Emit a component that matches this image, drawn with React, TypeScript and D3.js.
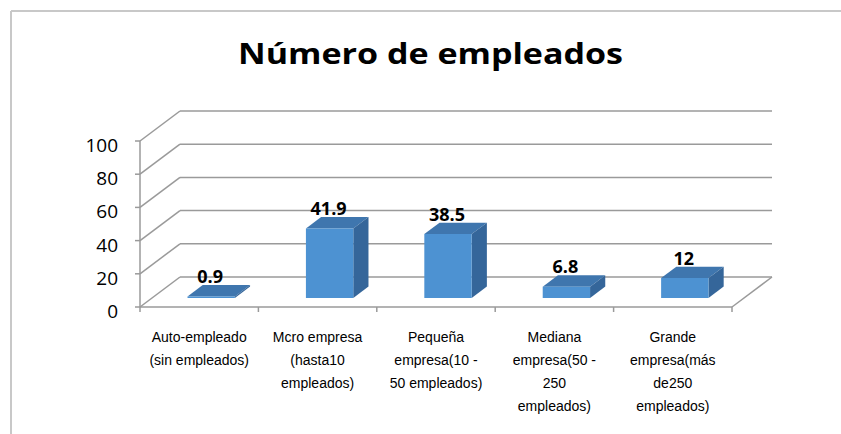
import React from "react";
import * as d3 from "d3";

const categories: string[][] = [
  ["Auto-empleado", "(sin empleados)"],
  ["Mcro empresa", "(hasta10", "empleados)"],
  ["Pequeña", "empresa(10 -", "50 empleados)"],
  ["Mediana", "empresa(50 -", "250", "empleados)"],
  ["Grande", "empresa(más", "de250", "empleados)"],
];
const values: number[] = [0.9, 41.9, 38.5, 6.8, 12];
const labels: string[] = ["0.9", "41.9", "38.5", "6.8", "12"];
const yTicks: number[] = [0, 20, 40, 60, 80, 100];
const title = "Número de empleados";

const W = 841;
const H = 434;
const X0 = 140;
const X1 = 732;
const Y0 = 307;
const DX = 40;
const DY = -30;
const D_FRONT = 0.3;
const D_BACK = 0.68;

export default function App() {
  const idx = categories.map((_, i) => String(i));
  const xBand = d3.scaleBand<string>().domain(idx).range([X0, X1]).paddingInner(0.6).paddingOuter(0.3);
  const step = xBand.step();
  const yScale = d3.scaleLinear().domain([0, 100]).range([0, 166]);
  const proj = (x: number, v: number, d: number): [number, number] => [x + DX * d, Y0 - yScale(v) + DY * d];
  const poly = (pts: [number, number][]) => pts.map((p) => p.join(",")).join(" ");
  const grid = "#9a9a9a";
  const font = "'Open Sans', 'Liberation Sans', sans-serif";

  return (
    <svg width={W} height={H} style={{ position: "absolute", left: 0, top: 0, background: "#fff" }}>
      <rect x={0} y={0} width={W} height={H} fill="#fff" />
      <line x1={11} y1={11} x2={W} y2={11} stroke="#c8c8c8" strokeWidth={2} />
      <line x1={11} y1={11} x2={11} y2={H} stroke="#c8c8c8" strokeWidth={2} />

      <text x={238} y={64} fontFamily={font} fontWeight={700} fontSize={29} fill="#000" textLength={385} lengthAdjust="spacingAndGlyphs">
        {title}
      </text>

      {/* walls gridlines */}
      {yTicks.map((t) => {
        const [fx, fy] = proj(X0, t, 0);
        const [bx, by] = proj(X0, t, 1);
        const [ex, ey] = proj(X1, t, 1);
        return (
          <g key={t}>
            <line x1={fx} y1={fy} x2={bx} y2={by} stroke={grid} strokeWidth={1.5} />
            <line x1={bx} y1={by} x2={ex} y2={ey} stroke={grid} strokeWidth={1.5} />
            <line x1={fx - 5} y1={fy} x2={fx} y2={fy} stroke={grid} strokeWidth={1.5} />
            <text x={118} y={fy + 11} textAnchor="end" fontFamily={font} fontSize={19} fill="#000">
              {t}
            </text>
          </g>
        );
      })}
      {/* front axis */}
      <line x1={X0} y1={proj(X0, 0, 0)[1]} x2={X0} y2={proj(X0, 100, 0)[1]} stroke={grid} strokeWidth={1.5} />
      <line x1={X0} y1={Y0} x2={X1} y2={Y0} stroke={grid} strokeWidth={1.5} />
      <line x1={X1} y1={Y0} x2={proj(X1, 0, 1)[0]} y2={proj(X1, 0, 1)[1]} stroke={grid} strokeWidth={1.5} />
      {d3.range(categories.length + 1).map((i) => (
        <line key={i} x1={X0 + i * step} y1={Y0} x2={X0 + i * step} y2={Y0 + 5} stroke={grid} strokeWidth={1.5} />
      ))}

      {/* bars */}
      {values.map((v, i) => {
        const xa = xBand(String(i))!;
        const xb = xa + xBand.bandwidth();
        const fbl = proj(xa, 0, D_FRONT);
        const fbr = proj(xb, 0, D_FRONT);
        const ftl = proj(xa, v, D_FRONT);
        const ftr = proj(xb, v, D_FRONT);
        const btl = proj(xa, v, D_BACK);
        const btr = proj(xb, v, D_BACK);
        const bbr = proj(xb, 0, D_BACK);
        const labX = proj((xa + xb) / 2, v, D_FRONT)[0] - 1;
        const labY = proj((xa + xb) / 2, v, D_BACK)[1] - 2;
        return (
          <g key={i}>
            <polygon points={poly([ftl, ftr, btr, btl])} fill="#3f76ae" />
            <polygon points={poly([fbr, ftr, btr, bbr])} fill="#35669a" />
            <polygon points={poly([fbl, fbr, ftr, ftl])} fill="#4d92d2" />
            <text x={labX} y={labY} textAnchor="middle" fontFamily={font} fontWeight={700} fontSize={18} fill="#000">
              {labels[i]}
            </text>
          </g>
        );
      })}

      {/* category labels */}
      {categories.map((lines, i) => {
        const cx = X0 + (i + 0.5) * step;
        return (
          <text key={i} textAnchor="middle" fontFamily="'Liberation Sans', sans-serif" fontSize={14} fill="#000">
            {lines.map((l, j) => (
              <tspan key={j} x={cx} y={342 + j * 23}>
                {l}
              </tspan>
            ))}
          </text>
        );
      })}
    </svg>
  );
}
